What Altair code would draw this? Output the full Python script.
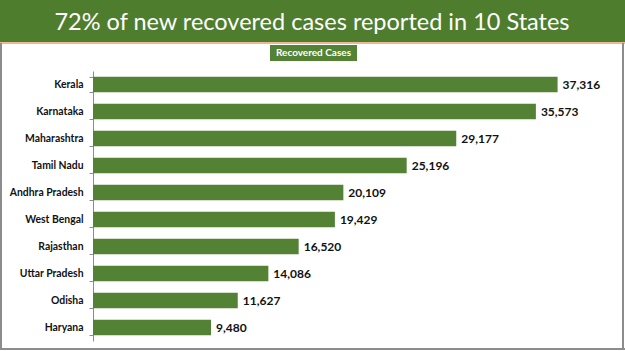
import altair as alt
import pandas as pd

states = ["Kerala", "Karnataka", "Maharashtra", "Tamil Nadu", "Andhra Pradesh",
          "West Bengal", "Rajasthan", "Uttar Pradesh", "Odisha", "Haryana"]
recovered = [37316, 35573, 29177, 25196, 20109, 19429, 16520, 14086, 11627, 9480]
title_text = "72% of new recovered cases reported in 10 States"
legend_text = "Recovered Cases"

GREEN = "#548235"
HEADER = "#4E7D2E"

df = pd.DataFrame({"state": states, "value": recovered})
df["label"] = df["value"].map(lambda v: f"{v:,}")

W, H = 498, 270
PAD = {"left": 93, "top": 71, "right": 625 - 93 - W, "bottom": 351 - 71 - H}

y_enc = alt.Y("state:N", sort=states, title=None,
              scale=alt.Scale(paddingInner=0.42, paddingOuter=0.21),
              axis=alt.Axis(domainColor="#8C8C8C", tickColor="#8C8C8C", tickSize=4,
                            tickBand="extent", labelFont="Lato", labelFontWeight="bold",
                            labelFontSize=10.4, labelColor="#111111", labelPadding=6,
                            domainWidth=1))
x_enc = alt.X("value:Q", title=None, scale=alt.Scale(domain=[0, 40000], nice=False),
              axis=None)

bars = alt.Chart(df).mark_bar(color=GREEN).encode(y=y_enc, x=x_enc)
labels = alt.Chart(df).mark_text(align="left", dx=5, font="Lato", fontWeight="bold",
                                 fontSize=12, color="#111111").encode(
    y=alt.Y("state:N", sort=states), x="value:Q", text="label:N")

deco = pd.DataFrame({"t": [title_text]})
header = alt.Chart(deco).mark_rect(color=HEADER).encode(
    x=alt.value(-93), x2=alt.value(625 - 93), y=alt.value(-71), y2=alt.value(-29))
orange = alt.Chart(deco).mark_rule(color="#E8A070", strokeWidth=1.5).encode(
    x=alt.value(-93), x2=alt.value(625 - 93), y=alt.value(-28))
frame_l = alt.Chart(deco).mark_rule(color="#8C8C8C", strokeWidth=2).encode(
    x=alt.value(-92), y=alt.value(-28), y2=alt.value(351 - 71 - 1))
frame_r = alt.Chart(deco).mark_rule(color="#8C8C8C", strokeWidth=2).encode(
    x=alt.value(625 - 93 - 2), y=alt.value(-28), y2=alt.value(351 - 71 - 1))
frame_b = alt.Chart(deco).mark_rule(color="#8C8C8C", strokeWidth=2).encode(
    x=alt.value(-93), x2=alt.value(625 - 93), y=alt.value(351 - 71 - 2))
title = alt.Chart(deco).mark_text(font="Lato", fontSize=23.5, color="white",
                                  align="center", baseline="middle").encode(
    x=alt.value(312 - 93), y=alt.value(22.5 - 71), text="t:N")

leg = pd.DataFrame({"t": [legend_text]})
leg_box = alt.Chart(leg).mark_rect(color=GREEN).encode(
    x=alt.value(270 - 93), x2=alt.value(357 - 93), y=alt.value(45 - 71), y2=alt.value(61 - 71))
leg_txt = alt.Chart(leg).mark_text(font="Lato", fontWeight="bold", fontSize=10,
                                   color="white", align="center", baseline="middle").encode(
    x=alt.value(313.5 - 93), y=alt.value(53 - 71), text="t:N")

chart = alt.layer(header, orange, frame_l, frame_r, frame_b, title, leg_box, leg_txt,
                  bars, labels).properties(
    width=W, height=H, padding=PAD, autosize=alt.AutoSizeParams(type="none"),
    background="white"
).configure_view(stroke=None)

chart.save("out.html", embed_options={"renderer": "svg", "actions": False})
